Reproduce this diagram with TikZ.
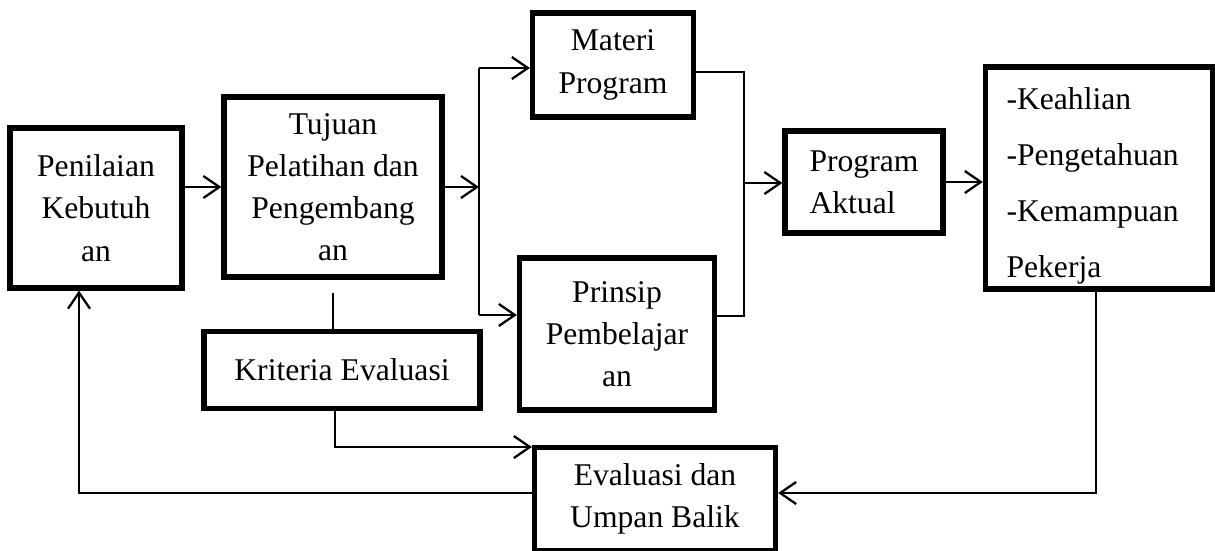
\documentclass[tikz,border=0pt]{standalone}
\usepackage{fontspec}
\setmainfont{Liberation Serif}
\usetikzlibrary{arrows.meta}

\begin{document}
\begin{tikzpicture}[x=0.2mm,y=-0.2mm,
    box/.style={rectangle,draw,line width=3pt,align=center,inner sep=0pt,
      font=\fontsize{18}{24}\selectfont},
    arr/.style={line width=1.3pt,-{Straight Barb[length=3.2mm,width=4.4mm,line width=1.3pt]}},
    plain/.style={line width=0.8pt}]
  \useasboundingbox (0,0) rectangle (1215,550);
  \node[box,minimum width=34.4mm,minimum height=32mm] (pen) at (96,208) {Penilaian\\Kebutuh\\an};
  \node[box,minimum width=43.6mm,minimum height=36mm] (tuj) at (333,187) {Tujuan\\Pelatihan dan\\Pengembang\\an};
  \node[box,minimum width=55.2mm,minimum height=15.4mm] (krit) at (342,370) {Kriteria Evaluasi};
  \node[box,minimum width=32.2mm,minimum height=20.8mm] (mat) at (613,65) {Materi\\Program};
  \node[box,minimum width=39mm,minimum height=30.4mm] (prin) at (617,334) {Prinsip\\Pembelajar\\an};
  \node[box,minimum width=31.6mm,minimum height=20.4mm,align=left] (prog) at (864,182) {Program\\Aktual};
  \node[box,minimum width=45.4mm,minimum height=44.4mm] (keah) at (1099,178) {};
  \node[text width=37mm,align=left,inner sep=0pt,font=\fontsize{18}{32}\selectfont]
    (keahtxt) at ([yshift=-1.6mm]keah.center) {-Keahlian\\-Pengetahuan\\-Kemampuan\\Pekerja};
  \node[box,minimum width=48.2mm,minimum height=20.6mm] (eval) at (655,499) {Evaluasi dan\\Umpan Balik};

  \coordinate (split) at (479,187);
  \coordinate (splitT) at (479,68);
  \coordinate (splitB) at (479,315);
  \coordinate (mergeT) at (744,72);
  \coordinate (mergeB) at (744,316);
  \coordinate (merge) at (744,183);
  \coordinate (kt) at (335,447);
  \coordinate (fb) at (79,493);
  \coordinate (kb) at (1096,493);

  \draw[arr] (pen.east |- tuj.west) -- (tuj.west);
  \draw[arr] (tuj.east |- split) -- (split);
  \draw[plain] (splitT) -- (splitB);
  \draw[arr] (splitT) -- (splitT -| mat.west);
  \draw[arr] (splitB) -- (splitB -| prin.west);
  \draw[plain] (mat.east |- mergeT) -- (mergeT) -- (mergeB) -- (mergeB -| prin.east);
  \draw[arr] (merge) -- (merge -| prog.west);
  \draw[arr] (prog.east) -- (prog.east -| keah.west);
  \draw[plain] ([yshift=-2.6mm]tuj.south) -- (tuj.south |- krit.north);
  \draw[arr] (krit.south -| kt) -- (kt) -- (kt -| eval.west);
  \draw[arr] (eval.west |- fb) -- (fb) -- (fb |- pen.south);
  \draw[arr] (keah.south -| kb) -- (kb) -- (kb -| eval.east);
\end{tikzpicture}
\end{document}
